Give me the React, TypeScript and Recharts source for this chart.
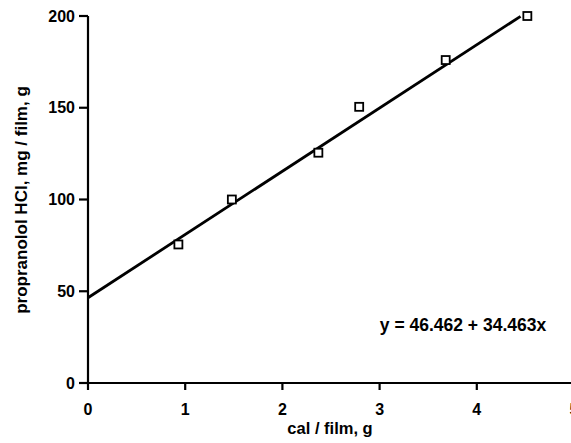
import {
  ComposedChart,
  Line,
  Scatter,
  XAxis,
  YAxis,
} from "recharts";

// measured drug loading against calcium content per film
const CAL_PER_FILM = [0.93, 1.48, 2.37, 2.79, 3.68, 4.52];
const PROPRANOLOL = [75.5, 100, 125.5, 150.5, 176, 200];

// least-squares fit, y = a + b·x
const FIT_INTERCEPT = 46.462;
const FIT_SLOPE = 34.463;
const FIT_RANGE = [0, 4.45];

const X_TICKS = [0, 1, 2, 3, 4, 5];
const Y_TICKS = [0, 50, 100, 150, 200];

const FONT = "'Liberation Sans', Arial, Helvetica, sans-serif";

const points = CAL_PER_FILM.map((x, i) => ({ x, y: PROPRANOLOL[i] }));
const fitLine = FIT_RANGE.map((x) => ({ x, y: FIT_INTERCEPT + FIT_SLOPE * x }));

function OpenSquare(props: { cx?: number; cy?: number }) {
  const { cx = 0, cy = 0 } = props;
  return (
    <rect x={cx - 4} y={cy - 4} width={8} height={8} fill="#fff" stroke="#000" strokeWidth={1.8} />
  );
}

const tickStyle = { fill: "#000", fontSize: 16, fontWeight: 700, fontFamily: FONT };

export default function App() {
  return (
    <div style={{ position: "absolute", left: 0, top: 0, width: 571, height: 443, background: "#fff" }}>
      <ComposedChart width={571} height={443} margin={{ top: 16, right: -3, bottom: 0, left: 0 }}>
        <XAxis
          type="number"
          dataKey="x"
          domain={[0, 5]}
          ticks={X_TICKS}
          interval={0}
          stroke="#000"
          strokeWidth={2.2}
          tickSize={7}
          tickMargin={14}
          tick={tickStyle}
          height={60}
        />
        <YAxis
          type="number"
          dataKey="y"
          domain={[0, 200]}
          ticks={Y_TICKS}
          interval={0}
          stroke="#000"
          strokeWidth={2.2}
          tickSize={9}
          tickMargin={4}
          tick={tickStyle}
          width={88}
        />
        <Line
          data={fitLine}
          dataKey="y"
          type="linear"
          stroke="#000"
          strokeWidth={2.8}
          dot={false}
          activeDot={false}
          isAnimationActive={false}
        />
        <Scatter data={points} dataKey="y" shape={<OpenSquare />} isAnimationActive={false} />
        <text x={330} y={434} textAnchor="middle" fill="#000" fontSize={16.5} fontWeight={700} fontFamily={FONT}>
          cal / film, g
        </text>
        <text
          x={27}
          y={200}
          transform="rotate(-90 27 200)"
          textAnchor="middle"
          fill="#000"
          fontSize={17}
          fontWeight={700}
          fontFamily={FONT}
        >
          propranolol HCl, mg / film, g
        </text>
        <text x={463} y={331} textAnchor="middle" fill="#000" fontSize={17.5} fontWeight={700} fontFamily={FONT}>
          y = 46.462 + 34.463x
        </text>
      </ComposedChart>
    </div>
  );
}
